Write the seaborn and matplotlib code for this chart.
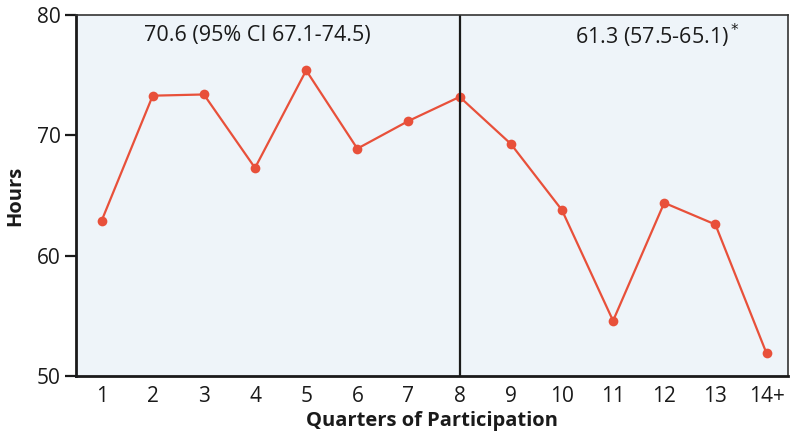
import pandas as pd
import seaborn as sns
import matplotlib.pyplot as plt

quarters = list(range(1, 15))
tick_labels = ['1', '2', '3', '4', '5', '6', '7', '8', '9', '10', '11', '12', '13', '14+']
hours = [62.9, 73.3, 73.4, 67.3, 75.4, 68.9, 71.2, 73.2, 69.3, 63.8, 54.6, 64.4, 62.6, 51.9]

df = pd.DataFrame({'quarter': quarters, 'hours': hours})

sns.set_style('white')
plt.rcParams['font.family'] = ['Open Sans', 'DejaVu Sans']
ink = '#1a1a1a'

fig, ax = plt.subplots(figsize=(8, 4.42), dpi=100)
fig.subplots_adjust(left=0.095, right=0.985, top=0.966, bottom=0.149)

ax.set_facecolor('#eef4f9')
sns.lineplot(data=df, x='quarter', y='hours', color='#e8503a', linewidth=1.6,
             marker='o', markersize=7, markeredgewidth=0, ax=ax)

ax.axvline(8, color=ink, linewidth=1.6)

ax.set_xlim(0.5, 14.42)
ax.set_ylim(50, 80)
ax.set_xticks(quarters)
ax.set_xticklabels(tick_labels)
ax.set_yticks([50, 60, 70, 80])
ax.tick_params(axis='x', length=0, labelsize=15, pad=7, labelcolor=ink)
ax.tick_params(axis='y', length=8, width=1.6, labelsize=15, left=True, pad=3,
               labelcolor=ink, color=ink)

for side in ['left', 'bottom']:
    ax.spines[side].set_linewidth(2)
    ax.spines[side].set_color(ink)
for side in ['top', 'right']:
    ax.spines[side].set_linewidth(1.2)
    ax.spines[side].set_color('#333333')

ax.set_xlabel('Quarters of Participation', fontsize=14.5, fontweight='bold',
              labelpad=3, color=ink)
ax.set_ylabel('Hours', fontsize=14.5, fontweight='bold', labelpad=8, color=ink)

ax.text(1.82, 78.3, '70.6 (95% CI 67.1-74.5)', fontsize=15.5, ha='left',
        va='center', color=ink)
ax.text(10.26, 78.3, '61.3 (57.5-65.1)$^*$', fontsize=15.5, ha='left',
        va='center', color=ink)

fig.savefig('out.png', dpi=100)
